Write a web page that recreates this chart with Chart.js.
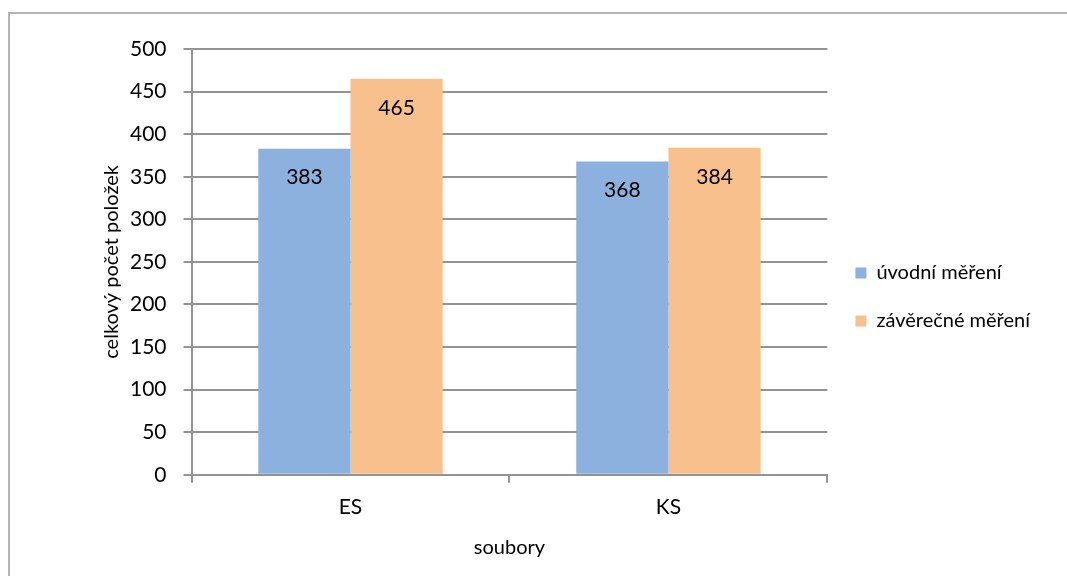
<!DOCTYPE html>
<html>
<head>
<meta charset="utf-8">
<script src="https://cdn.jsdelivr.net/npm/chart.js@4/dist/chart.umd.min.js"></script>
<style>
  html, body { margin: 0; padding: 0; background: #fff; overflow: hidden; }
  #wrap { position: relative; width: 1067px; height: 576px; }
  #frame { position: absolute; left: 8px; top: 12px; width: 1100px; height: 620px;
           border-left: 2px solid #b4b4b4; border-top: 2px solid #b4b4b4; }
  canvas { position: absolute; left: 0; top: 0; }
</style>
</head>
<body>
<div id="wrap">
  <div id="frame"></div>
  <canvas id="chart" width="1067" height="576"></canvas>
</div>
<script>
// data
const categories = ['ES', 'KS'];
const seriesNames = ['úvodní měření', 'závěrečné měření'];
const uvodni = [383, 368];
const zaverecne = [465, 384];
const yTitle = 'celkový počet položek';
const xTitle = 'soubory';

const FONT = "Lato, 'Open Sans', sans-serif";
const GRID = '#939393';
const INK = '#000';

// hodnoty uvnitř sloupců
const valueLabels = {
  id: 'valueLabels',
  afterDatasetsDraw(chart) {
    const ctx = chart.ctx;
    ctx.save();
    ctx.font = '21px ' + FONT;
    ctx.fillStyle = INK;
    ctx.textAlign = 'center';
    ctx.textBaseline = 'middle';
    chart.data.datasets.forEach((ds, i) => {
      chart.getDatasetMeta(i).data.forEach((bar, j) => {
        ctx.fillText(String(ds.data[j]), bar.x, bar.y + 29);
      });
    });
    ctx.restore();
  }
};

Chart.defaults.font.family = FONT;
Chart.defaults.color = INK;

new Chart(document.getElementById('chart'), {
  type: 'bar',
  data: {
    labels: categories,
    datasets: [
      { label: seriesNames[0], data: uvodni, backgroundColor: '#8DB1DF',
        categoryPercentage: 0.58, barPercentage: 1.0 },
      { label: seriesNames[1], data: zaverecne, backgroundColor: '#F8C08D',
        categoryPercentage: 0.58, barPercentage: 1.0 },
    ],
  },
  options: {
    responsive: false,
    animation: false,
    layout: { padding: { left: 100, top: 49, right: 27, bottom: 12 } },
    plugins: {
      tooltip: { enabled: false },
      legend: {
        position: 'right',
        align: 'start',
        // prázdný titulek jen posouvá položky legendy dolů
        title: { display: true, text: '', font: { size: 10 }, padding: { top: 174, bottom: 0 } },
        labels: {
          font: { size: 20 },
          boxWidth: 11, boxHeight: 11,
          padding: 28,
          color: INK,
        },
      },
    },
    scales: {
      x: {
        grid: { offset: true, drawOnChartArea: false, drawTicks: true, tickLength: 8, color: GRID, lineWidth: 2 },
        border: { color: GRID, width: 2 },
        ticks: { font: { size: 21 }, padding: 12, color: INK },
        title: { display: true, text: xTitle, font: { size: 20 }, color: INK, padding: { top: 4 } },
      },
      y: {
        min: 0, max: 500,
        ticks: { stepSize: 50, font: { size: 21 }, padding: 17, color: INK },
        grid: { color: GRID, lineWidth: 2, tickLength: 8 },
        border: { color: GRID, width: 2 },
        title: { display: true, text: yTitle, font: { size: 20 }, color: INK, padding: { top: 0, bottom: -11 } },
      },
    },
  },
  plugins: [valueLabels],
});
</script>
</body>
</html>
